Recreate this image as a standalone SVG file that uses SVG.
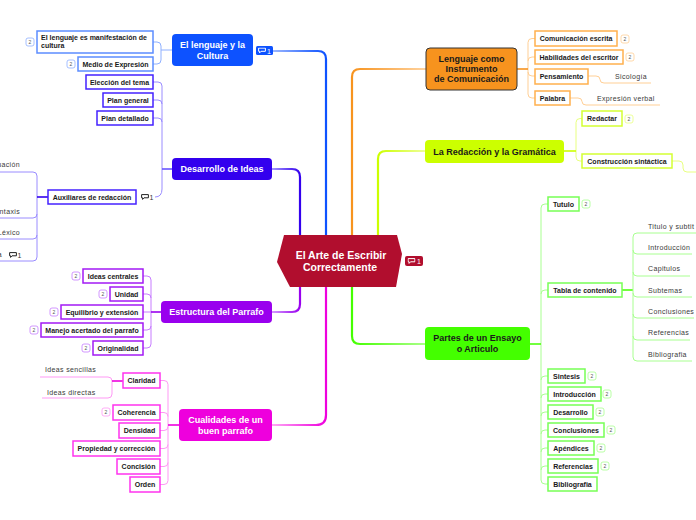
<svg xmlns="http://www.w3.org/2000/svg" xmlns:xlink="http://www.w3.org/1999/xlink" width="696" height="520" viewBox="0 0 696 520">
<style>
.mt{font-family:"Liberation Sans",Arial,sans-serif;font-weight:bold;font-size:9px;fill:#fff;text-anchor:middle}
.dk{fill:#1a1a1a}
.bt{font-family:"Liberation Sans",Arial,sans-serif;font-weight:bold;font-size:7px;fill:#1a1a1a;text-anchor:middle}
.pt{font-family:"Liberation Sans",Arial,sans-serif;font-size:7px;fill:#3a3a3a;letter-spacing:0.35px}
.bx{fill:#fff;stroke-width:1.5}
.bd{fill:#fff;stroke-width:0.8}
.bn{font-family:"Liberation Sans",Arial,sans-serif;font-size:5px;fill:#555;text-anchor:middle}
.ln{fill:none;stroke-width:1}
.mc{fill:none;stroke-width:2.2}
.pc{fill:none;stroke-width:1.6}
.cn{font-family:"Liberation Sans",Arial,sans-serif;font-size:7px;text-anchor:start}
</style>
<defs>
<symbol id="cmt" viewBox="0 0 8 6"><path d="M0.6,0.6 H7.4 V3.8 H3 L1.6,5.4 V3.8 H0.6 Z" fill="none" stroke="currentColor" stroke-width="1"/></symbol>
<linearGradient id="gA" gradientUnits="userSpaceOnUse" x1="273" y1="0" x2="326" y2="0"><stop offset="0" stop-color="#9bb6ff"/><stop offset="1" stop-color="#0d52ff"/></linearGradient>
<linearGradient id="gB" gradientUnits="userSpaceOnUse" x1="272" y1="0" x2="300" y2="0"><stop offset="0" stop-color="#a596ff"/><stop offset="1" stop-color="#3300ee"/></linearGradient>
<linearGradient id="gC" gradientUnits="userSpaceOnUse" x1="272" y1="0" x2="300" y2="0"><stop offset="0" stop-color="#d59bff"/><stop offset="1" stop-color="#9900ee"/></linearGradient>
<linearGradient id="gD" gradientUnits="userSpaceOnUse" x1="272" y1="0" x2="326" y2="0"><stop offset="0" stop-color="#ffa8f5"/><stop offset="1" stop-color="#ee00dd"/></linearGradient>
<linearGradient id="gE" gradientUnits="userSpaceOnUse" x1="426" y1="0" x2="352" y2="0"><stop offset="0" stop-color="#ffd3a0"/><stop offset="1" stop-color="#f7931e"/></linearGradient>
<linearGradient id="gF" gradientUnits="userSpaceOnUse" x1="425" y1="0" x2="378" y2="0"><stop offset="0" stop-color="#eeff99"/><stop offset="1" stop-color="#ccff00"/></linearGradient>
<linearGradient id="gG" gradientUnits="userSpaceOnUse" x1="425" y1="0" x2="352" y2="0"><stop offset="0" stop-color="#aaff88"/><stop offset="1" stop-color="#44ff00"/></linearGradient>
</defs>

<g id="connectors">
  <path class="mc" stroke="url(#gA)" d="M273,51 H318 Q326,51 326,59 V236"/>
  <path class="mc" stroke="url(#gB)" d="M272,169 H292 Q300,169 300,177 V236"/>
  <path class="mc" stroke="url(#gC)" d="M272,312 H292 Q300,312 300,304 V286"/>
  <path class="mc" stroke="url(#gD)" d="M272,425 H316 Q326,425 326,415 V286"/>
  <path class="mc" stroke="url(#gE)" d="M426,69 H360 Q352,69 352,77 V236"/>
  <path class="mc" stroke="url(#gF)" d="M425,151 H386 Q378,151 378,159 V236"/>
  <path class="mc" stroke="url(#gG)" d="M425,344 H360 Q352,344 352,336 V286"/>

  <path class="ln" stroke="#8fb0ff" d="M153,42 H157 Q161,42 161,46 V60 Q161,64 157,64 H153 M161,50 H172"/>
  <path class="ln" stroke="#9a8cff" d="M153,82 H158 Q162,82 162,86 V189 Q162,197 155,197 M153,100 H158 Q162,100 162,104 M153,118 H158 Q162,118 162,122"/>
  <path class="pc" stroke="#6a55ff" d="M162,169 H172"/>
  <path class="ln" stroke="#9a8cff" d="M0,172 H33 Q37,172 37,176 V257 Q37,261 33,261 H0 M0,218 H33 Q37,218 37,214 M0,239 H33 Q37,239 37,235"/>
  <path class="pc" stroke="#3300ee" d="M37,197 H48"/>
  <path class="ln" stroke="#c77dff" d="M143,276 H147 Q151,276 151,280 V344 Q151,348 147,348 H143 M143,294 H147 Q151,294 151,298 M143,312 H151 M143,330 H147 Q151,330 151,326"/>
  <path class="pc" stroke="#9900ee" d="M151,312 H161"/>
  <path class="ln" stroke="#ff99f5" d="M160,380.5 H164 Q168,380.5 168,384.5 V480.5 Q168,484.5 164,484.5 H160 M160,412.5 H164 Q168,412.5 168,416.5 M160,430.5 H164 Q168,430.5 168,426.5 M160,448.5 H164 Q168,448.5 168,444.5 M160,466.5 H164 Q168,466.5 168,462.5"/>
  <path class="pc" stroke="#ee00dd" d="M168,425 H179"/>
  <path class="ln" stroke="#ff99f5" d="M40,377 H108 Q112,377 112,381 V394 Q112,398 108,398 H42"/>
  <path class="pc" stroke="#ee00dd" d="M112,381 H123"/>
  <path class="ln" stroke="#ffcf95" d="M535,38.5 H532 Q528,38.5 528,42.5 V94 Q528,98 532,98 H535 M535,57 H532 Q528,57 528,61 M535,76 H532 Q528,76 528,72"/>
  <path class="pc" stroke="#f7931e" d="M517,69 H528"/>
  <path class="ln" stroke="#ffcf95" d="M588,76 H596 Q600,76 600,79.5 Q600,83 604,83 H651 M570,98 H578 Q582,98 582,101.5 Q582,105 586,105 H660"/>
  <path class="ln" stroke="#e8ff80" d="M582,118.5 H580 Q576,118.5 576,122.5 V157 Q576,161 580,161 H582 M672,161 H679 Q683,161 683,165 V168 Q683,172 687,172 H696"/>
  <path class="pc" stroke="#ccff00" d="M564,151 H576"/>
  <path class="ln" stroke="#a8ff90" d="M548,204 H545 Q541,204 541,208 V480 Q541,484 545,484 H548 M548,290 H545 Q541,290 541,294 M548,376 H545 Q541,376 541,380 M548,394 H545 Q541,394 541,398 M548,412 H545 Q541,412 541,416 M548,430 H545 Q541,430 541,434 M548,448 H545 Q541,448 541,452 M548,466 H545 Q541,466 541,470"/>
  <path class="pc" stroke="#44ff00" d="M530,344 H541 M622,290 H633"/>
  <path class="ln" stroke="#a8ff90" d="M696,233 H637 Q633,233 633,237 V357 Q633,361 637,361 H692 M633,250 Q633,254 637,254 H692 M633,272 Q633,276 637,276 H690 M633,293 Q633,297 637,297 H692 M633,314 Q633,318 637,318 H694 M633,336 Q633,340 637,340 H690"/>
</g>

<g id="central">
  <polygon points="284,235 397,235 402,254 396,287 290,287 277,262" fill="#b10e2e"/>
  <text class="mt" x="341" y="259" style="font-size:10.5px">El Arte de Escribir</text>
  <text class="mt" x="340" y="271" style="font-size:10.5px">Correctamente</text>
  <rect x="405" y="256" width="18" height="10" rx="2" fill="#b10e2e"/>
  <use href="#cmt" x="407.5" y="258" width="8" height="6" color="#fff"/>
  <text class="cn" x="417" y="264" fill="#fff">1</text>
</g>

<g id="n-lenguaje-cultura">
  <rect x="172" y="34" width="81" height="32" rx="4" fill="#0d52ff"/>
  <text class="mt" x="212.5" y="48">El lenguaje y la</text>
  <text class="mt" x="212.5" y="58.5">Cultura</text>
  <rect x="256" y="46" width="17" height="9" rx="1.5" fill="#0d52ff"/>
  <use href="#cmt" x="258" y="47.5" width="8" height="6" color="#fff"/>
  <text class="cn" x="267" y="53.5" fill="#fff">1</text>
</g>
<g id="n-manifestacion">
  <rect class="bx" stroke="#5c8dff" x="37" y="31" width="116" height="22"/>
  <text class="bt" x="41" y="40" style="text-anchor:start">El lenguaje es manifestación de</text>
  <text class="bt" x="41" y="48" style="text-anchor:start">cultura</text>
  <rect class="bd" stroke="#8fb0ff" x="26" y="38" width="8" height="8" rx="2"/><text class="bn" x="30" y="44">2</text>
</g>
<g id="n-medio">
  <rect class="bx" stroke="#5c8dff" x="78" y="57" width="75" height="14"/>
  <text class="bt" x="115.5" y="66.5">Medio de Expresión</text>
  <rect class="bd" stroke="#8fb0ff" x="67" y="60" width="8" height="8" rx="2"/><text class="bn" x="71" y="66">2</text>
</g>

<g id="n-desarrollo">
  <rect x="172" y="158" width="100" height="22" rx="4" fill="#3300ee"/>
  <text class="mt" x="222" y="172">Desarrollo de Ideas</text>
</g>
<g id="n-eleccion"><rect class="bx" stroke="#4422ff" x="86" y="75" width="67" height="14"/><text class="bt" x="119.5" y="84.5">Elección del tema</text></g>
<g id="n-plan-general"><rect class="bx" stroke="#4422ff" x="103" y="93" width="50" height="14"/><text class="bt" x="128" y="102.5">Plan general</text></g>
<g id="n-plan-detallado"><rect class="bx" stroke="#4422ff" x="97" y="111" width="56" height="14"/><text class="bt" x="125" y="120.5">Plan detallado</text></g>
<g id="n-auxiliares">
  <rect class="bx" stroke="#4422ff" x="48" y="190" width="88" height="14"/><text class="bt" x="92" y="199.5">Auxiliares de redacción</text>
  <use href="#cmt" x="141" y="194" width="8" height="6" color="#222"/>
  <text class="cn" x="149.5" y="200" fill="#333">1</text>
</g>
<g id="n-aux-children">
  <text class="pt" x="20" y="166.5" style="text-anchor:end">uación</text>
  <text class="pt" x="20" y="213.5" style="text-anchor:end">ntaxis</text>
  <text class="pt" x="20" y="234.5" style="text-anchor:end">Léxico</text>
  <text class="pt" x="2" y="256.5" style="text-anchor:end">a</text>
  <use href="#cmt" x="9" y="252" width="8" height="6" color="#222"/>
  <text class="cn" x="17.5" y="258" fill="#333">1</text>
</g>

<g id="n-estructura">
  <rect x="161" y="301" width="111" height="22" rx="4" fill="#9900ee"/>
  <text class="mt" x="216.5" y="315">Estructura del Parrafo</text>
</g>
<g id="n-ideas-centrales"><rect class="bx" stroke="#a31af5" x="83" y="269" width="60" height="14"/><text class="bt" x="113" y="278.5">Ideas centrales</text><rect class="bd" stroke="#c77dff" x="72" y="272" width="8" height="8" rx="2"/><text class="bn" x="76" y="278">2</text></g>
<g id="n-unidad"><rect class="bx" stroke="#a31af5" x="110" y="287" width="33" height="14"/><text class="bt" x="126.5" y="296.5">Unidad</text><rect class="bd" stroke="#c77dff" x="99" y="290" width="8" height="8" rx="2"/><text class="bn" x="103" y="296">2</text></g>
<g id="n-equilibrio"><rect class="bx" stroke="#a31af5" x="61" y="305" width="82" height="14"/><text class="bt" x="102" y="314.5">Equilibrio y extensión</text><rect class="bd" stroke="#c77dff" x="50" y="308" width="8" height="8" rx="2"/><text class="bn" x="54" y="314">2</text></g>
<g id="n-manejo"><rect class="bx" stroke="#a31af5" x="41" y="323" width="102" height="14"/><text class="bt" x="92" y="332.5">Manejo acertado del parrafo</text><rect class="bd" stroke="#c77dff" x="30" y="326" width="8" height="8" rx="2"/><text class="bn" x="34" y="332">2</text></g>
<g id="n-originalidad"><rect class="bx" stroke="#a31af5" x="93" y="341" width="50" height="14"/><text class="bt" x="118" y="350.5">Originalidad</text><rect class="bd" stroke="#c77dff" x="82" y="344" width="8" height="8" rx="2"/><text class="bn" x="86" y="350">2</text></g>

<g id="n-cualidades">
  <rect x="179" y="409" width="93" height="32" rx="4" fill="#ee00dd"/>
  <text class="mt" x="225.5" y="423">Cualidades de un</text>
  <text class="mt" x="225.5" y="433.5">buen parrafo</text>
</g>
<g id="n-claridad"><rect class="bx" stroke="#ff33ee" x="123" y="373" width="37" height="15"/><text class="bt" x="141.5" y="383">Claridad</text></g>
<g id="n-claridad-children">
  <text class="pt" x="45" y="371.5">Ideas sencillas</text>
  <text class="pt" x="47" y="394.5">Ideas directas</text>
</g>
<g id="n-coherencia"><rect class="bx" stroke="#ff33ee" x="113" y="405" width="47" height="15"/><text class="bt" x="136.5" y="415">Coherencia</text><rect class="bd" stroke="#ff99f5" x="102" y="408" width="8" height="8" rx="2"/><text class="bn" x="106" y="414">2</text></g>
<g id="n-densidad"><rect class="bx" stroke="#ff33ee" x="119" y="423" width="41" height="15"/><text class="bt" x="139.5" y="433">Densidad</text></g>
<g id="n-propiedad"><rect class="bx" stroke="#ff33ee" x="73" y="441" width="87" height="15"/><text class="bt" x="116.5" y="451">Propiedad y corrección</text></g>
<g id="n-concision"><rect class="bx" stroke="#ff33ee" x="117" y="459" width="43" height="15"/><text class="bt" x="138.5" y="469">Concisión</text></g>
<g id="n-orden"><rect class="bx" stroke="#ff33ee" x="130" y="477" width="30" height="15"/><text class="bt" x="145" y="487">Orden</text></g>

<g id="n-lenguaje-instrumento">
  <rect x="426" y="48" width="91" height="42" rx="4" fill="#f7931e" stroke="#333" stroke-width="1"/>
  <text class="mt dk" x="471.5" y="62">Lenguaje como</text>
  <text class="mt dk" x="471.5" y="72">Instrumento</text>
  <text class="mt dk" x="471.5" y="82">de Comunicación</text>
</g>
<g id="n-comunicacion"><rect class="bx" stroke="#ffb04d" x="535" y="31" width="82" height="15"/><text class="bt" x="576" y="41">Comunicación escrita</text><rect class="bd" stroke="#ffcf95" x="621" y="35" width="8" height="8" rx="2"/><text class="bn" x="625" y="41">2</text></g>
<g id="n-habilidades"><rect class="bx" stroke="#ffb04d" x="535" y="50" width="88" height="14"/><text class="bt" x="579" y="59.5">Habilidades del escritor</text><rect class="bd" stroke="#ffcf95" x="626" y="53" width="8" height="8" rx="2"/><text class="bn" x="630" y="59">2</text></g>
<g id="n-pensamiento"><rect class="bx" stroke="#ffb04d" x="535" y="69" width="53" height="15"/><text class="bt" x="561.5" y="79">Pensamiento</text><text class="pt" x="615" y="79">Sicología</text></g>
<g id="n-palabra"><rect class="bx" stroke="#ffb04d" x="535" y="91" width="35" height="14"/><text class="bt" x="552.5" y="100.5">Palabra</text><text class="pt" x="597" y="101">Expresión verbal</text></g>

<g id="n-redaccion">
  <rect x="425" y="140" width="139" height="23" rx="4" fill="#ccff00"/>
  <text class="mt dk" x="494.5" y="154.5">La Redacción y la Gramática</text>
</g>
<g id="n-redactar"><rect class="bx" stroke="#d4ff33" x="582" y="111" width="40" height="15"/><text class="bt" x="602" y="121">Redactar</text><rect class="bd" stroke="#e8ff80" x="625" y="115" width="8" height="8" rx="2"/><text class="bn" x="629" y="121">2</text></g>
<g id="n-construccion"><rect class="bx" stroke="#d4ff33" x="582" y="154" width="90" height="14"/><text class="bt" x="627" y="163.5">Construcción sintáctica</text></g>

<g id="n-partes">
  <rect x="425" y="327" width="105" height="33" rx="4" fill="#44ff00"/>
  <text class="mt dk" x="477.5" y="341">Partes de un Ensayo</text>
  <text class="mt dk" x="477.5" y="351.5">o Articulo</text>
</g>
<g id="n-tutulo"><rect class="bx" stroke="#77ff55" x="548" y="197" width="31" height="14"/><text class="bt" x="563.5" y="206.5">Tutulo</text><rect class="bd" stroke="#a8ff90" x="582" y="200" width="8" height="8" rx="2"/><text class="bn" x="586" y="206">2</text></g>
<g id="n-tabla"><rect class="bx" stroke="#77ff55" x="548" y="283" width="74" height="14"/><text class="bt" x="585" y="292.5">Tabla de contenido</text></g>
<g id="n-tabla-children">
  <text class="pt" x="648" y="228.5">Titulo y subtit</text>
  <text class="pt" x="648" y="249.5">Introducción</text>
  <text class="pt" x="648" y="271">Capitulos</text>
  <text class="pt" x="648" y="292.5">Subtemas</text>
  <text class="pt" x="648" y="313.5">Conclusiones</text>
  <text class="pt" x="648" y="335">Referencias</text>
  <text class="pt" x="648" y="356.5">Bibliografia</text>
</g>
<g id="n-sintesis"><rect class="bx" stroke="#77ff55" x="548" y="369" width="37" height="14"/><text class="bt" x="566.5" y="378.5">Sintesis</text><rect class="bd" stroke="#a8ff90" x="588" y="372" width="8" height="8" rx="2"/><text class="bn" x="592" y="378">2</text></g>
<g id="n-introduccion"><rect class="bx" stroke="#77ff55" x="548" y="387" width="53" height="14"/><text class="bt" x="574.5" y="396.5">Introducción</text><rect class="bd" stroke="#a8ff90" x="603" y="390" width="8" height="8" rx="2"/><text class="bn" x="607" y="396">2</text></g>
<g id="n-desarrollo2"><rect class="bx" stroke="#77ff55" x="548" y="405" width="45" height="14"/><text class="bt" x="570.5" y="414.5">Desarrollo</text><rect class="bd" stroke="#a8ff90" x="596" y="408" width="8" height="8" rx="2"/><text class="bn" x="600" y="414">2</text></g>
<g id="n-conclusiones"><rect class="bx" stroke="#77ff55" x="548" y="423" width="56" height="14"/><text class="bt" x="576" y="432.5">Conclusiones</text><rect class="bd" stroke="#a8ff90" x="607" y="426" width="8" height="8" rx="2"/><text class="bn" x="611" y="432">2</text></g>
<g id="n-apendices"><rect class="bx" stroke="#77ff55" x="548" y="441" width="46" height="14"/><text class="bt" x="571" y="450.5">Apéndices</text><rect class="bd" stroke="#a8ff90" x="597" y="444" width="8" height="8" rx="2"/><text class="bn" x="601" y="450">2</text></g>
<g id="n-referencias"><rect class="bx" stroke="#77ff55" x="548" y="459" width="50" height="14"/><text class="bt" x="573" y="468.5">Referencias</text><rect class="bd" stroke="#a8ff90" x="601" y="462" width="8" height="8" rx="2"/><text class="bn" x="605" y="468">2</text></g>
<g id="n-bibliografia"><rect class="bx" stroke="#77ff55" x="548" y="477" width="49" height="14"/><text class="bt" x="572.5" y="486.5">Bibliografia</text></g>
</svg>
